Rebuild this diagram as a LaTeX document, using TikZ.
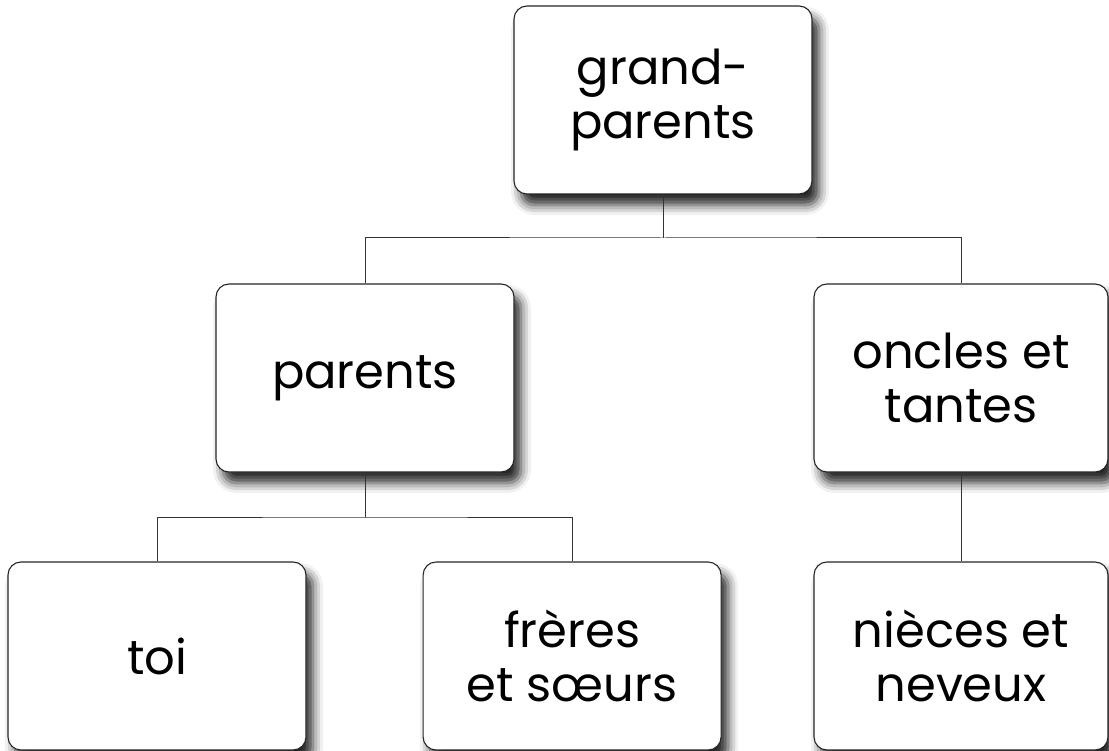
\documentclass[tikz,border=0pt]{standalone}
\usepackage{fontspec}
\setmainfont{Poppins}
\usetikzlibrary{positioning,shadows.blur}

\tikzset{
    member/.style={draw=black!85,
        line width=1.1pt,
        rounded corners=13pt,
        fill=white,
        minimum width=298pt,
        minimum height=188pt,
        align=center,
        font=\fontsize{48}{54}\selectfont,
        blur shadow={shadow xshift=7pt, shadow yshift=-11pt,
            shadow blur radius=10pt, shadow opacity=85}
    },
    link/.style={line width=1pt, black!80}
}

\begin{document}
\begin{tikzpicture}[x=1pt, y=1pt]
    \useasboundingbox (0,0) rectangle (1109,-751);

    \node [member] (GrandParents) at (663,-100) {grand-\\parents};
    \node [member] (Parents) at (365,-378) {parents};
    \node [member,
        minimum width=294pt
    ] (Oncles) at (961,-378) {oncles et\\tantes};
    \node [member] (Toi) at (157,-656) {toi};
    \node [member,
        right=116pt of Toi
    ] (Freres) {frères\\et sœurs};
    \node [member,
        minimum width=294pt
    ] (Nieces) at (961,-656) {nièces et\\neveux};

    \coordinate (TopBar) at (663,-238);
    \coordinate (LowBar) at (365,-517);

    \draw [link] (GrandParents.south) -- (TopBar);
    \draw [link] (Parents.north) |- (TopBar) -| (Oncles.north);
    \draw [link] (Parents.south) -- (LowBar);
    \draw [link] (Toi.north) |- (LowBar) -| (Freres.north);
    \draw [link] (Oncles.south) -- (Nieces.north);

\end{tikzpicture}
\end{document}
